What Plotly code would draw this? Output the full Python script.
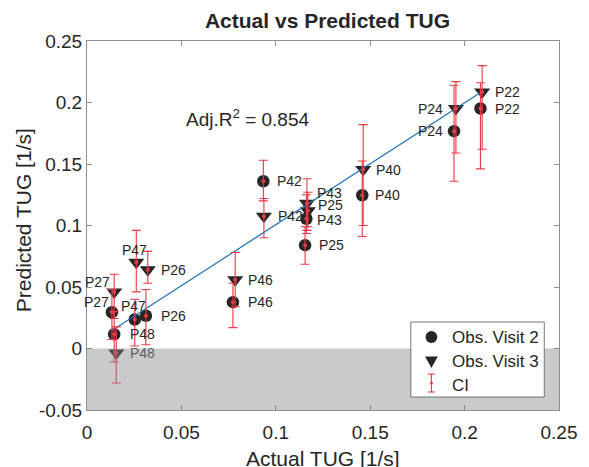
import plotly.graph_objects as go

# ---- data -------------------------------------------------------------
patients = ["P22", "P24", "P25", "P26", "P27", "P40", "P42", "P43", "P46", "P47", "P48"]

# observation visit 2 (circles)
actual_v2 = [0.2084, 0.1944, 0.1155, 0.0312, 0.0132, 0.1458, 0.0934, 0.1162, 0.0773, 0.0253, 0.0144]
pred_v2 = [0.1951, 0.1767, 0.0840, 0.0266, 0.0295, 0.1246, 0.1360, 0.1055, 0.0377, 0.0236, 0.0116]
ci_lo_v2 = [0.146, 0.136, 0.0685, 0.003, 0.0073, 0.091, 0.120, 0.0935, 0.017, 0.002, -0.011]
ci_hi_v2 = [0.216, 0.214, 0.099, 0.048, 0.048, 0.1525, 0.153, 0.125, 0.053, 0.040, 0.030]

# observation visit 3 (triangles)
actual_v3 = [0.2093, 0.1954, 0.1170, 0.0322, 0.0144, 0.1463, 0.0937, 0.1165, 0.0785, 0.0261, 0.0155]
pred_v3 = [0.2086, 0.1951, 0.1120, 0.0640, 0.0460, 0.1455, 0.1076, 0.1180, 0.0558, 0.0702, -0.0036]
ci_lo_v3 = [0.162, 0.159, 0.099, 0.053, 0.0244, 0.100, 0.090, 0.096, 0.034, 0.046, -0.028]
ci_hi_v3 = [0.230, 0.217, 0.127, 0.079, 0.0604, 0.182, 0.122, 0.138, 0.078, 0.096, 0.0176]

# linear fit of predicted vs actual
fit_intercept = 0.0015
fit_slope = 0.991
adj_r2 = 0.854

x_ticks = [0, 0.05, 0.1, 0.15, 0.2, 0.25]
x_ticktext = ["0", "0.05", "0.1", "0.15", "0.2", "0.25"]
y_ticks = [-0.05, 0, 0.05, 0.1, 0.15, 0.2, 0.25]
y_ticktext = ["-0.05", "0", "0.05", "0.1", "0.15", "0.2", "0.25"]

# ---- style ------------------------------------------------------------
FONT = "Liberation Sans, Arial, Helvetica, sans-serif"
TXT = "#262626"
FRAME = "#8f8f8f"
RED = "rgb(232,58,68)"
BLUE = "#1f72b8"
W, H = 589, 467
ML, MR, MT, MB = 87, 21, 41, 57
PW, PH = W - ML - MR, H - MT - MB

# per-label placement (xshift px, yshift px, xanchor)
label_pos_v2 = {
    "P22": (13, 0, "left"), "P24": (-9, 0, "right"), "P25": (12, 0, "left"),
    "P26": (13, 0, "left"), "P27": (-1, 10, "right"), "P40": (11, 0, "left"),
    "P42": (12, 0, "left"), "P43": (9, -1, "left"), "P46": (13, 0, "left"),
    "P47": (-16, 13, "left"), "P48": (14, 0, "left"),
}
label_pos_v3 = {
    "P22": (11, 0, "left"), "P24": (-11, 0, "right"), "P25": (8, 6, "left"),
    "P26": (11, 0, "left"), "P27": (-2, 10, "right"), "P40": (11, 0, "left"),
    "P42": (12, 0, "left"), "P43": (8, 10, "left"), "P46": (11, 0, "left"),
    "P47": (-16, 12, "left"), "P48": (12, 0, "left"),
}


def px_x(p):
    return (p - ML) / PW


def px_y(p):
    return (H - MB - p) / PH


fig = go.Figure()

# observations
fig.add_trace(go.Scatter(
    x=actual_v2, y=pred_v2, mode="markers", name="Obs. Visit 2",
    marker=dict(symbol="circle", size=12.5, color=TXT), showlegend=False))
fig.add_trace(go.Scatter(
    x=actual_v3, y=pred_v3, mode="markers", name="Obs. Visit 3",
    marker=dict(symbol="triangle-down", size=14, color=TXT), showlegend=False))

# regression line across the observed range
all_x = actual_v2 + actual_v3
x_min, x_max = min(all_x), max(all_x)
fig.add_trace(go.Scatter(
    x=[x_min, x_max],
    y=[fit_intercept + fit_slope * x_min, fit_intercept + fit_slope * x_max],
    mode="lines", line=dict(color=BLUE, width=1.2), showlegend=False))

# confidence intervals
for ax, py, lo, hi in [(actual_v2, pred_v2, ci_lo_v2, ci_hi_v2),
                       (actual_v3, pred_v3, ci_lo_v3, ci_hi_v3)]:
    fig.add_trace(go.Scatter(
        x=ax, y=py, mode="markers", name="CI",
        marker=dict(size=4, color=RED),
        error_y=dict(type="data", symmetric=False,
                     array=[h - v for h, v in zip(hi, py)],
                     arrayminus=[v - l for l, v in zip(lo, py)],
                     color=RED, thickness=1.1, width=4.5),
        showlegend=False))

annotations = []
# patient labels
for ax, py, pos in [(actual_v2, pred_v2, label_pos_v2), (actual_v3, pred_v3, label_pos_v3)]:
    for name, xv, yv in zip(patients, ax, py):
        dx, dy, anchor = pos[name]
        annotations.append(dict(
            x=xv, y=yv, xref="x", yref="y", text=name, showarrow=False,
            xanchor=anchor, yanchor="middle", xshift=dx, yshift=dy,
            font=dict(family=FONT, size=14, color="#5e5f60" if yv < 0 else TXT)))

# fit quality
annotations.append(dict(
    x=0.0514, y=0.187, xref="x", yref="y", showarrow=False, xanchor="left", yanchor="middle",
    text=f"Adj.R<sup>2</sup> = {adj_r2:.3f}", font=dict(family=FONT, size=19, color=TXT)))

# axis titles
annotations.append(dict(
    x=0.5, y=px_y(458), xref="paper", yref="paper", showarrow=False, yanchor="middle",
    text="Actual TUG [1/s]", font=dict(family=FONT, size=21, color=TXT)))
annotations.append(dict(
    x=px_x(22), y=px_y(220), xref="paper", yref="paper", showarrow=False,
    xanchor="center", yanchor="middle", textangle=-90,
    text="Predicted TUG [1/s]", font=dict(family=FONT, size=21, color=TXT)))

# legend texts
for label, yp in [("Obs. Visit 2", 337), ("Obs. Visit 3", 361), ("CI", 385)]:
    annotations.append(dict(
        x=px_x(457), y=px_y(yp), xref="paper", yref="paper", showarrow=False,
        xanchor="left", yanchor="middle", text=label,
        font=dict(family=FONT, size=17, color=TXT)))

shapes = [
    # shaded negative region
    dict(type="rect", xref="x", yref="y", x0=0, x1=0.25, y0=-0.05, y1=0,
         fillcolor="rgba(133,135,137,0.44)", line=dict(width=0), layer="above"),
    # legend box
    dict(type="rect", xref="paper", yref="paper",
         x0=px_x(417), x1=px_x(553), y0=px_y(397), y1=px_y(322),
         fillcolor="white", line=dict(color="#555555", width=0.8), layer="above"),
    # legend glyphs
    dict(type="circle", xref="paper", yref="paper",
         x0=px_x(432), x1=px_x(444), y0=px_y(343), y1=px_y(331),
         fillcolor=TXT, line=dict(width=0), layer="above"),
    dict(type="path", xref="paper", yref="paper",
         path=f"M {px_x(431.5)} {px_y(356.5)} L {px_x(444.5)} {px_y(356.5)} L {px_x(438)} {px_y(368)} Z",
         fillcolor=TXT, line=dict(width=0), layer="above"),
    dict(type="line", xref="paper", yref="paper",
         x0=px_x(438), x1=px_x(438), y0=px_y(374), y1=px_y(392),
         line=dict(color=RED, width=1.1), layer="above"),
    dict(type="line", xref="paper", yref="paper",
         x0=px_x(434.5), x1=px_x(441.5), y0=px_y(374), y1=px_y(374),
         line=dict(color=RED, width=1.1), layer="above"),
    dict(type="line", xref="paper", yref="paper",
         x0=px_x(434.5), x1=px_x(441.5), y0=px_y(392), y1=px_y(392),
         line=dict(color=RED, width=1.1), layer="above"),
    dict(type="circle", xref="paper", yref="paper",
         x0=px_x(436.5), x1=px_x(439.5), y0=px_y(384.5), y1=px_y(381.5),
         fillcolor=RED, line=dict(width=0), layer="above"),
]

axis_common = dict(
    showgrid=False, zeroline=False, showline=True, linecolor=FRAME, linewidth=1,
    mirror="ticks", ticks="inside", ticklen=5, tickwidth=1, tickcolor=FRAME,
    tickfont=dict(family=FONT, size=19, color=TXT),
)

fig.update_layout(
    width=W, height=H,
    margin=dict(l=ML, r=MR, t=MT, b=MB, pad=0),
    paper_bgcolor="white", plot_bgcolor="white",
    title=dict(text="<b>Actual vs Predicted TUG</b>", x=(ML + PW / 2) / W,
               xanchor="center", y=1 - 21 / H, yanchor="middle",
               font=dict(family=FONT, size=21, color=TXT)),
    xaxis=dict(range=[0, 0.25], tickvals=x_ticks, ticktext=x_ticktext,
               ticklabelstandoff=5, **axis_common),
    yaxis=dict(range=[-0.05, 0.25], tickvals=y_ticks, ticktext=y_ticktext, **axis_common),
    annotations=annotations,
    shapes=shapes,
    showlegend=False,
)

fig.write_html("out.html")
